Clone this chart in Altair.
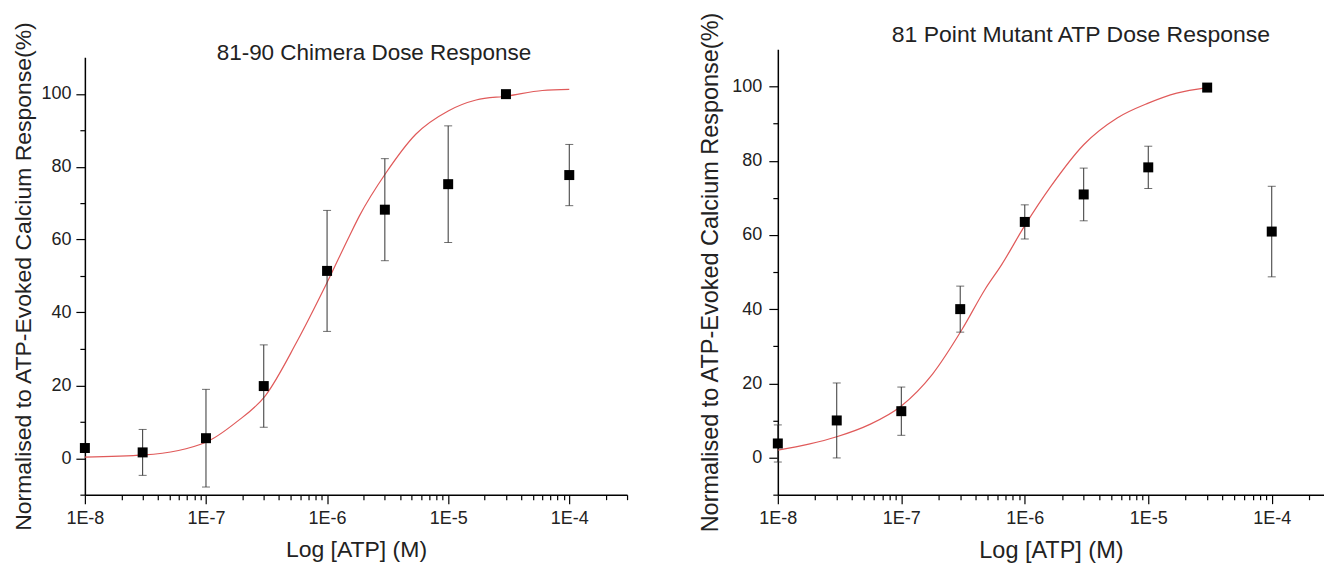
import altair as alt
import pandas as pd

# ---------------- data ----------------
conc = [1e-8, 3e-8, 1e-7, 3e-7, 1e-6, 3e-6, 1e-5, 3e-5, 1e-4]

left_mean = [2.8, 1.6, 5.5, 19.8, 51.4, 68.2, 75.2, 99.9, 77.7]
left_err = [0.0, 6.3, 13.4, 11.3, 16.6, 14.0, 16.0, 0.0, 8.4]

right_mean = [3.8, 10.0, 12.5, 40.0, 63.5, 70.9, 78.2, 99.7, 60.9]
right_err = [5.0, 10.1, 6.5, 6.2, 4.6, 7.1, 5.7, 0.0, 12.2]

left_fit_x = [1e-8, 3.1e-8, 1e-7, 1.78e-7, 3.1e-7, 5.6e-7, 1e-6, 1.53e-6,
              1.85e-6, 3.08e-6, 5.4e-6, 1e-5, 1.7e-5, 3.1e-5, 6e-5, 1e-4]
left_fit_y = [0.3, 0.9, 4.4, 9.9, 17.2, 31.8, 48.2, 61.0,
              66.5, 78.4, 88.9, 95.3, 98.3, 99.4, 100.9, 101.2]

right_fit_x = [1e-8, 1.78e-8, 3e-8, 5.45e-8, 1e-7, 1.79e-7, 3.1e-7, 4.8e-7,
               6.5e-7, 1e-6, 1.62e-6, 3e-6, 5.6e-6, 1e-5, 1.7e-5, 3e-5]
right_fit_y = [2.0, 3.6, 5.6, 8.8, 13.9, 22.5, 34.5, 45.5,
               52.0, 62.5, 73.0, 84.3, 91.5, 95.5, 98.2, 99.7]

left_title = "81-90 Chimera Dose Response"
right_title = "81 Point Mutant ATP Dose Response"
x_title = "Log [ATP] (M)"
y_title = "Normalised to ATP-Evoked Calcium Response(%)"

y_ticks = [-10, 0, 10, 20, 30, 40, 50, 60, 70, 80, 90, 100]

# ---------------- styling ----------------
FONT = "Liberation Sans"
TXT = "#222222"
RED = "#e05a5a"
MAJOR_X = "abs(log(datum.value)/LN10 - round(log(datum.value)/LN10)) < 0.001"
MAJOR_Y = "datum.value % 20 == 0"


def x_tick_values(xmax):
    vals = []
    for e in range(-8, -3):
        for k in range(1, 10):
            v = k * 10.0 ** e
            if v <= xmax * 1.0000001:
                vals.append(v)
    return vals


def panel(mean, err, fit_x, fit_y, title, xmax, width, height, yrange,
          title_dx, title_offset, title_size, axis_title_size,
          label_pad, title_pad):
    pts = pd.DataFrame({
        "conc": conc,
        "mean": mean,
        "lo": [m - e for m, e in zip(mean, err)],
        "hi": [m + e for m, e in zip(mean, err)],
    })
    fit = pd.DataFrame({"conc": fit_x, "resp": fit_y})

    xscale = alt.Scale(type="log", domain=[1e-8, xmax], nice=False)
    if yrange is not None:
        yscale = alt.Scale(domain=[-10, 110], nice=False, zero=False, range=yrange)
    else:
        yscale = alt.Scale(domain=[-10, 110], nice=False, zero=False)

    xaxis = alt.Axis(
        title=x_title, values=x_tick_values(xmax),
        labelExpr=f"{MAJOR_X} ? '1E' + round(log(datum.value)/LN10) : ''",
        tickSize={"condition": {"test": MAJOR_X, "value": 9}, "value": 5},
        labelFlush=False, labelOverlap=False, grid=False,
        labelFont=FONT, labelFontSize=18, labelColor=TXT, labelPadding=6,
        titleFont=FONT, titleFontSize=axis_title_size, titleFontWeight="normal",
        titleColor=TXT, titlePadding=11,
        domainColor="black", domainWidth=1.5, tickColor="black", tickWidth=1.2,
    )
    yaxis = alt.Axis(
        title=y_title, values=y_ticks,
        labelExpr=f"{MAJOR_Y} ? datum.label : ''",
        tickSize={"condition": {"test": MAJOR_Y, "value": 9}, "value": 5},
        labelOverlap=False, grid=False, labelFlush=False,
        labelFont=FONT, labelFontSize=18, labelColor=TXT, labelPadding=label_pad,
        titleFont=FONT, titleFontSize=axis_title_size, titleFontWeight="normal",
        titleColor=TXT, titlePadding=title_pad,
        domainColor="black", domainWidth=1.5, tickColor="black", tickWidth=1.2,
    )

    X = alt.X("conc:Q", scale=xscale, axis=xaxis)

    line = alt.Chart(fit).mark_line(color=RED, strokeWidth=1.2, interpolate="monotone").encode(
        x=X,
        y=alt.Y("resp:Q", scale=yscale, axis=yaxis),
    )
    rules = alt.Chart(pts).mark_rule(color="#333333", strokeWidth=1).encode(
        x=X,
        y=alt.Y("lo:Q", scale=yscale, axis=yaxis),
        y2="hi:Q",
    )
    cap_lo = alt.Chart(pts).mark_tick(orient="horizontal", size=8, thickness=1, color="#333333").encode(
        x=X,
        y=alt.Y("lo:Q", scale=yscale, axis=yaxis),
    )
    cap_hi = alt.Chart(pts).mark_tick(orient="horizontal", size=8, thickness=1, color="#333333").encode(
        x=X,
        y=alt.Y("hi:Q", scale=yscale, axis=yaxis),
    )
    squares = alt.Chart(pts).mark_square(size=100, color="black", opacity=1, filled=True).encode(
        x=X,
        y=alt.Y("mean:Q", scale=yscale, axis=yaxis),
    )

    return alt.layer(line, rules, cap_lo, cap_hi, squares).properties(
        width=width, height=height,
        title=alt.TitleParams(
            text=title, font=FONT, fontSize=title_size, fontWeight="normal", color=TXT,
            anchor="middle", frame="group", dx=title_dx, offset=title_offset,
            baseline="alphabetic",
        ),
    )


left = panel(left_mean, left_err, left_fit_x, left_fit_y, left_title,
             3e-4, 543, 446, [446, 8], 18, -61.2, 22.5, 23, 5, 5)
right = panel(right_mean, right_err, right_fit_x, right_fit_y, right_title,
              2.65e-4, 547, 446, None, 30, -53.5, 23, 23.5, 7, 9)

chart = alt.hconcat(left, right, spacing=70).properties(
    padding={"left": 12, "top": 11, "right": 0, "bottom": 0},
    background="white",
).configure_view(stroke=None)

chart.save("out.html", embed_options={"renderer": "svg", "actions": False})
